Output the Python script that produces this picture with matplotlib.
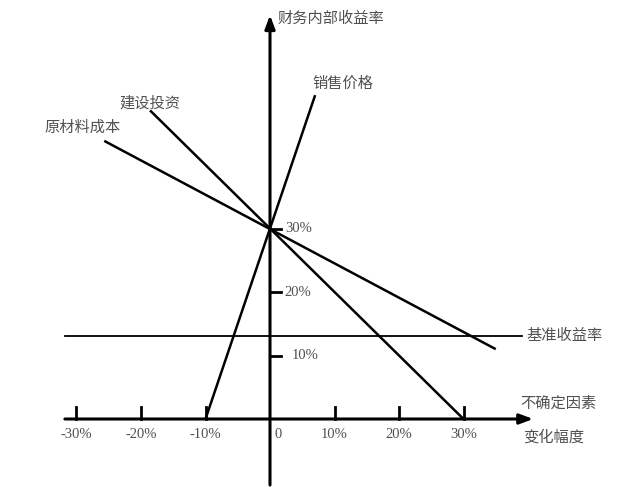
import matplotlib
matplotlib.use("Agg")
import matplotlib.pyplot as plt

plt.rcParams['font.family'] = ['Noto Sans CJK SC', 'DejaVu Sans']

# 敏感性分析数据 (变化幅度 %, 财务内部收益率 %)
base_irr = 30
benchmark = 13.1
x_ticks = [-30, -20, -10, 10, 20, 30]
y_ticks = [10, 20, 30]

factors = ["销售价格", "建设投资", "原材料成本"]
factor_x = [[-10, 7.0], [-18.6, 30], [-25.7, 35.0]]
factor_y = [[0, 51.0], [48.6, 0], [43.8, 11.0]]
label_pos = [(6.5, 52.8), (-23.3, 49.8), (-34.9, 46.0)]

PX_X, PX_Y = 6.45, 6.35  # px per 1%
W, H = 617, 487
ORIGIN = (270, 419)

fig = plt.figure(figsize=(W / 100, H / 100), dpi=100)
ax = fig.add_axes([0, 0, 1, 1])
ax.set_xlim(-ORIGIN[0] / PX_X, (W - ORIGIN[0]) / PX_X)
ax.set_ylim(-(H - ORIGIN[1]) / PX_Y, ORIGIN[1] / PX_Y)
ax.axis("off")

txt = "#505050"
num_font = "Liberation Serif"
cjk_size = 11

# 坐标轴
ax.annotate("", xy=(40.8, 0), xytext=(-31.8, 0),
            arrowprops=dict(arrowstyle="-|>,head_length=0.8,head_width=0.3",
                            color="black", lw=2.2, shrinkA=0, shrinkB=0))
ax.annotate("", xy=(0, 63.6), xytext=(0, -10.4),
            arrowprops=dict(arrowstyle="-|>,head_length=0.8,head_width=0.3",
                            color="black", lw=2.2, shrinkA=0, shrinkB=0))

for t in x_ticks:
    ax.plot([t, t], [0, 1.9], color="black", lw=2)
    ax.text(t, -1.4, f"{t}%", ha="center", va="top", fontsize=10.5,
            family=num_font, color=txt)
ax.text(1.3, -1.4, "0", ha="center", va="top", fontsize=10.5,
        family=num_font, color=txt)
for t in y_ticks:
    ax.plot([0, 1.7], [t, t], color="black", lw=2)
    ax.text(2.3 if t != 10 else 3.4, t, f"{t}%", ha="left", va="center",
            fontsize=10.5, family=num_font, color=txt)

# 基准收益率
ax.plot([-31.8, 39.1], [benchmark, benchmark], color="black", lw=1.3)
ax.text(39.8, benchmark, "基准收益率", ha="left", va="center",
        fontsize=cjk_size, color=txt)

# 各因素曲线
for name, xs, ys, (lx, ly) in zip(factors, factor_x, factor_y, label_pos):
    ax.plot(xs, ys, color="black", lw=1.8, solid_capstyle="butt")
    ax.text(lx, ly, name, ha="left", va="center", fontsize=cjk_size, color=txt)

ax.text(1.2, 63.1, "财务内部收益率", ha="left", va="center", fontsize=cjk_size, color=txt)
ax.text(38.8, 2.5, "不确定因素", ha="left", va="center", fontsize=cjk_size, color=txt)
ax.text(39.2, -2.8, "变化幅度", ha="left", va="center", fontsize=cjk_size, color=txt)

fig.savefig("out.png", dpi=100)
